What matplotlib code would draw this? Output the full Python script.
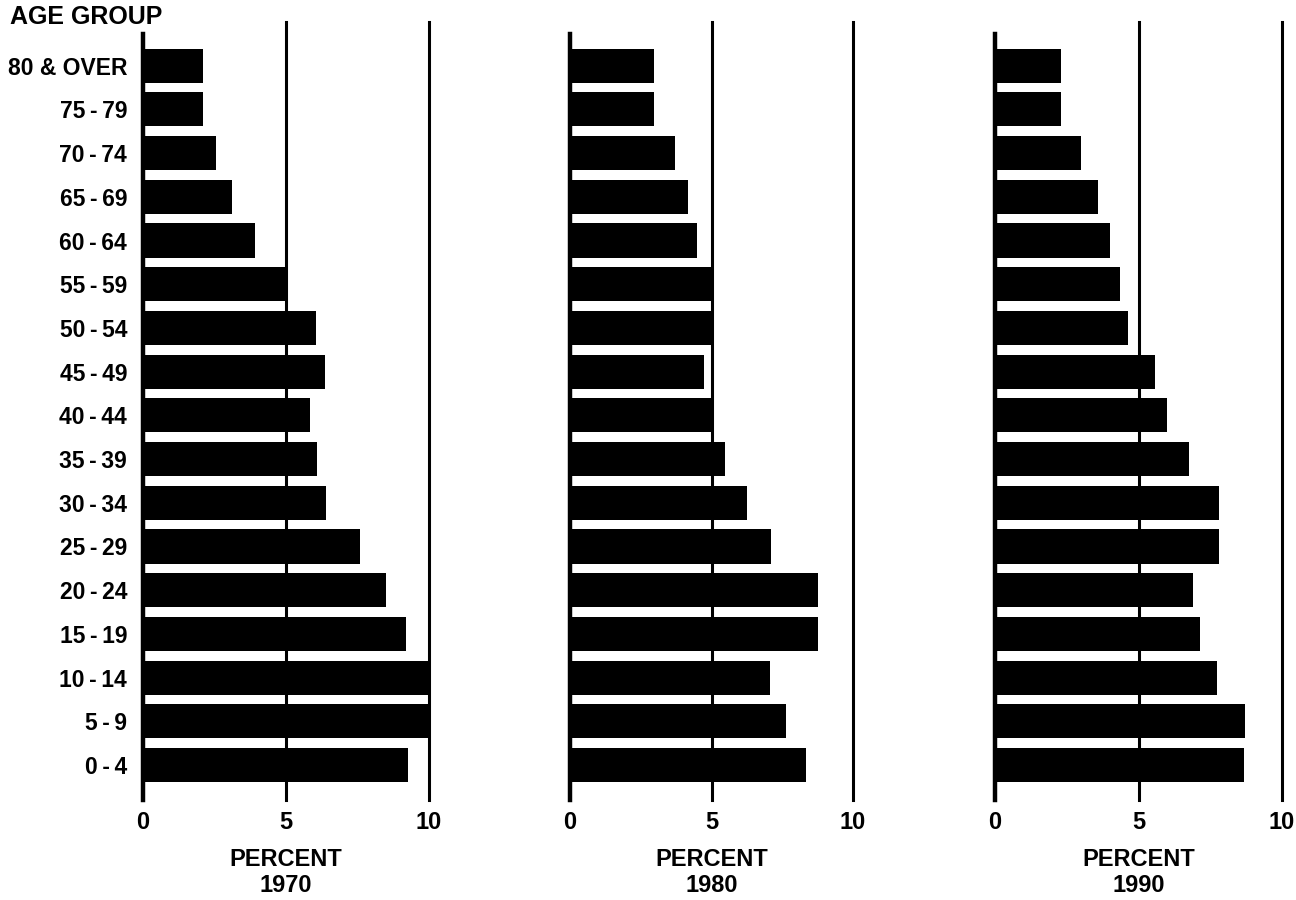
import matplotlib
matplotlib.use("Agg")
import matplotlib.pyplot as plt

ages = ["0 - 4", "5 - 9", "10 - 14", "15 - 19", "20 - 24", "25 - 29", "30 - 34",
        "35 - 39", "40 - 44", "45 - 49", "50 - 54", "55 - 59", "60 - 64",
        "65 - 69", "70 - 74", "75 - 79", "80 & OVER"]
years = ["1970", "1980", "1990"]
pct_1970 = [9.27, 10.0, 10.0, 9.2, 8.5, 7.6, 6.4, 6.1, 5.85, 6.35, 6.05, 5.0,
            3.9, 3.1, 2.55, 2.1, 2.1]
pct_1980 = [8.34, 7.63, 7.07, 8.76, 8.76, 7.1, 6.25, 5.48, 5.05, 4.73, 5.05,
            5.05, 4.5, 4.17, 3.7, 2.97, 2.97]
pct_1990 = [8.67, 8.7, 7.72, 7.15, 6.9, 7.82, 7.82, 6.77, 6.0, 5.58, 4.63,
            4.35, 4.0, 3.58, 3.0, 2.3, 2.3]
ticks = [0, 5, 10]

plt.rcParams['font.family'] = ['Liberation Sans', 'DejaVu Sans']
plt.rcParams['font.weight'] = 'bold'

W, H = 1296, 900
fig = plt.figure(figsize=(12.96, 9), dpi=100, facecolor='white')

lefts = [143, 570, 995]
widths = [286, 283, 287]
top_px, bot_px = 22, 800
series = [pct_1970, pct_1980, pct_1990]

# thinner gaps around the dash, like the typeset labels
labels = [a.replace(" - ", "\u2009-\u2009") for a in ages]

for k in range(3):
    ax = fig.add_axes([lefts[k] / W, 1 - bot_px / H, widths[k] / W, (bot_px - top_px) / H])
    ax.barh(range(len(ages)), series[k], height=0.78, color='black', zorder=3)
    ax.set_xlim(0, 10)
    ax.set_ylim(-0.8, 17.0)
    for s in ax.spines.values():
        s.set_visible(False)
    ax.axvline(0, ymin=0, ymax=0.985, color='black', lw=3.2, clip_on=False, zorder=4)
    ax.axvline(5, color='black', lw=2.2, clip_on=False, zorder=2)
    ax.axvline(10, color='black', lw=2.2, clip_on=False, zorder=2)
    ax.set_xticks(ticks)
    ax.set_xticklabels([str(t) for t in ticks], fontsize=17, fontweight='bold')
    ax.tick_params(axis='x', length=0, pad=8)
    ax.set_xlabel("PERCENT\n" + years[k], fontsize=17, fontweight='bold',
                  labelpad=10, linespacing=1.15)
    if k == 0:
        ax.set_yticks(range(len(ages)))
        ax.set_yticklabels(labels, fontsize=16.5, fontweight='bold')
        ax.tick_params(axis='y', length=0, pad=11.5)
    else:
        ax.set_yticks([])

fig.text(10 / W, 1 - 17 / H, "AGE GROUP", fontsize=18, fontweight='bold',
         ha='left', va='center')

fig.savefig("out.png", dpi=100, facecolor='white')
